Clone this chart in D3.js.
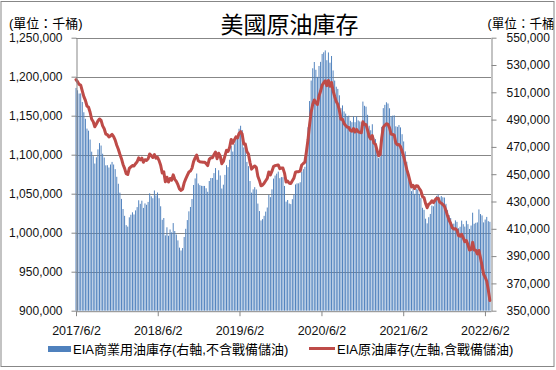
<!DOCTYPE html>
<html>
<head>
<meta charset="utf-8">
<script src="https://cdn.jsdelivr.net/npm/d3@7"></script>
<style>
  body { margin: 0; background: #fff; }
  svg { display: block; }
</style>
</head>
<body>
<div id="chart"></div>
<script>
// weekly EIA commercial crude stocks, excl. SPR (千桶) - right axis
const commercial = [
  513200,511500,509100,509200,502900,495400,490600,483400,481900,475400,466500,463200,457800,462400,468200,472800,471000,465000,462200,456500,456600,454900,457100,459000,457100,453700,448100,443000,436500,431900,424500,
  419500,412700,411600,418400,420300,422100,420500,423500,425900,430900,428300,430600,425300,428600,427600,429700,436000,433800,432400,438100,434500,436600,432400,426500,416600,417900,405200,411100,404900,409500,407400,414200,408400,405800,401500,396200,394100,395900,404000,410000,416400,422800,426000,431800,442100,446900,450500,443200,442000,441500,441400,441400,
  439700,437100,445000,447200,447200,450800,454500,445900,452900,449100,439500,442300,449500,456600,455200,460600,470600,466600,472000,476800,476500,483300,485500,482400,469600,469600,459000,455900,445000,436500,438900,440500,438800,428500,423000,416100,417100,419500,422600,425600,434900,433200,438900,446800,449000,450400,451900,447100,447900,447800,441400,429900,
  431100,428500,428100,431700,435000,442500,443300,443300,444100,451800,453700,455400,469200,484400,503600,518600,527600,532200,526500,521300,529300,532300,538100,539300,540700,533500,539200,531700,536600,526000,518600,514100,512500,507800,498400,500400,496000,494400,492400,492900,489100,488100,492400,488100,492400,489400,488700,488100,503200,500100,499500,493500,
  485500,482200,486600,476700,475700,469000,461800,463000,484600,498400,500800,502700,501800,498300,492400,492900,493100,485100,484700,486000,484300,479300,474000,466700,459100,452300,445500,437600,439700,435600,439200,438800,435600,432600,425400,423900,417400,414000,418500,420900,427000,426500,430800,434100,435100,433000,434000,433100,432900,428300,423600,420000,417900,
  413300,413800,416200,415100,410400,411500,416000,413400,411600,415900,413400,409900,412400,421800,413700,414400,414700,424200,420800,419800,414700,416800,418700,415600,415100
];

// weekly EIA crude stocks incl. SPR (千桶) - left axis
const total = [
  1196200,1193500,1190100,1189200,1181900,1174400,1169600,1162400,1160900,1154400,1145500,1142200,1135800,1139400,1143200,1145800,1144000,1137000,1133200,1126500,1125600,1122900,1124100,1126000,1123100,1118700,1112100,1107000,1100500,1094900,1087500,
  1082500,1075700,1074600,1082400,1084300,1086100,1085500,1088500,1090900,1095900,1093300,1095600,1090300,1093600,1092600,1094700,1101000,1098800,1096400,1100100,1095500,1096600,1092400,1086500,1076600,1077900,1065200,1071100,1064900,1069500,1067400,1074200,1068400,1065800,1061500,1056200,1054100,1055900,1064000,1069000,1073400,1077800,1079000,1082800,1091100,1095900,1099500,1092200,1091000,1090500,1090400,1090400,
  1088700,1086100,1094000,1096200,1096200,1099800,1103500,1094900,1101900,1098100,1088500,1091300,1098500,1105600,1104200,1109600,1119600,1114600,1119000,1122800,1121500,1127300,1129500,1126400,1113600,1113600,1104000,1100900,1090000,1081500,1083900,1085500,1083800,1072500,1067000,1060100,1061100,1063500,1066600,1069600,1077900,1074200,1078900,1084800,1086000,1086400,1086900,1082100,1082900,1082800,1076400,1064900,
  1066100,1063500,1063100,1066700,1070000,1077500,1078300,1078300,1079100,1086800,1088700,1090400,1104200,1119400,1138600,1154600,1164600,1170200,1166500,1164300,1175300,1181300,1189100,1192300,1194700,1188500,1195200,1187700,1192600,1182000,1174600,1168100,1164500,1156800,1145400,1145400,1140000,1137400,1135400,1134900,1131100,1130100,1133400,1129100,1132400,1129400,1128700,1128100,1142200,1139100,1138500,1131500,
  1123500,1120200,1124600,1114700,1113700,1106000,1098800,1100000,1121600,1135400,1137800,1139700,1138800,1134300,1126400,1125900,1125100,1115100,1112700,1113000,1110300,1104300,1098000,1089700,1081100,1074300,1066500,1058600,1060700,1056600,1060200,1059800,1056600,1053600,1046400,1044900,1037400,1032000,1036500,1037900,1041000,1038500,1041800,1044100,1044100,1039000,1038000,1036100,1033900,1028300,1021600,1016000,1011900,
  1006300,1004800,1005200,1003100,996400,995500,998000,993400,988600,989900,984400,977900,978400,987800,977700,977400,972700,977200,967800,957800,946700,942800,937700,926600,913100
];

const firstWeek = "2017/6/2";
const axisEnd = "2022/6/29";
const xTickLabels = ["2017/6/2", "2018/6/2", "2019/6/2", "2020/6/2", "2021/6/2", "2022/6/2"];
const leftTicks = [900000, 950000, 1000000, 1050000, 1100000, 1150000, 1200000, 1250000];
const rightTicks = [350000, 370000, 390000, 410000, 430000, 450000, 470000, 490000, 510000, 530000, 550000];

const seriesNames = ["EIA商業用油庫存(右軸,不含戰備儲油)", "EIA原油庫存(左軸,含戰備儲油)"];
const titleText = "美國原油庫存";
const unitText = "(單位：千桶)";
const unitTextRight = "(單位：千桶"; // closing paren is hidden behind the frame edge in the original

const W = 556, H = 370;
const plot = { left: 76, right: 491, top: 37.7, bottom: 310.7 };
const fontFam = "'Liberation Sans', 'Noto Sans CJK TC', sans-serif";
const blue = "#4f81bd", red = "#be4b48", gridC = "#878787";

const parse = d3.utcParse("%Y/%-m/%-d");
const start = parse(firstWeek);
const dates = commercial.map((_, i) => d3.utcDay.offset(start, 7 * i));

const x = d3.scaleUtc()
    .domain([start, parse(axisEnd)])
    .range([plot.left, plot.right]);

const yL = d3.scaleLinear()
    .domain([900000, 1250000])
    .range([plot.bottom, plot.top]);

const yR = d3.scaleLinear()
    .domain([350000, 550000])
    .range([plot.bottom, plot.top]);

const svg = d3.select("#chart").append("svg")
    .attr("width", W)
    .attr("height", H)
    .attr("viewBox", [0, 0, W, H])
    .style("font-family", fontFam);

// title + units
svg.append("text")
    .attr("x", 289.5).attr("y", 32.5)
    .attr("text-anchor", "middle")
    .attr("font-size", 23)
    .attr("fill", "#000")
    .text(titleText);

svg.append("text")
    .attr("x", 9).attr("y", 27.5)
    .attr("font-size", 13)
    .attr("fill", "#000")
    .text(unitText);

svg.append("text")
    .attr("x", 487.5).attr("y", 27.5)
    .attr("font-size", 12.6)
    .attr("fill", "#000")
    .text(unitTextRight);

// grid lines
svg.append("g")
    .selectAll("line")
    .data(leftTicks.slice(1))
    .join("line")
    .attr("x1", plot.left).attr("x2", plot.right)
    .attr("y1", d => Math.round(yL(d)) + 0.5)
    .attr("y2", d => Math.round(yL(d)) + 0.5)
    .attr("stroke", gridC)
    .attr("stroke-width", 1);

// bars (right axis)
const step = x(dates[1]) - x(dates[0]);
const barW = step * 0.62;
svg.append("g")
    .selectAll("rect")
    .data(commercial)
    .join("rect")
    .attr("x", (d, i) => x(dates[i]) - barW / 2)
    .attr("y", d => yR(d))
    .attr("width", barW)
    .attr("height", d => plot.bottom - yR(d))
    .attr("fill", blue);

// line (left axis)
const line = d3.line()
    .x((d, i) => x(dates[i]))
    .y(d => yL(d));

svg.append("path")
    .datum(total)
    .attr("d", line)
    .attr("fill", "none")
    .attr("stroke", red)
    .attr("stroke-width", 3)
    .attr("stroke-linejoin", "round")
    .attr("stroke-linecap", "round");

// axes
function styleAxis(g) {
    g.selectAll("path, line").attr("stroke", gridC).attr("stroke-width", 1);
    g.selectAll("text").attr("fill", "#111").style("font-family", fontFam);
}

svg.append("g")
    .attr("transform", `translate(${plot.left + 0.5},0)`)
    .call(d3.axisLeft(yL).tickValues(leftTicks).tickFormat(d3.format(",")).tickSize(5).tickSizeOuter(0).tickPadding(9))
    .call(g => g.selectAll("text").attr("font-size", 12))
    .call(styleAxis);

svg.append("g")
    .attr("transform", `translate(${plot.right + 0.5},0)`)
    .call(d3.axisRight(yR).tickValues(rightTicks).tickFormat(d3.format(",")).tickSize(5).tickSizeOuter(0).tickPadding(10))
    .call(g => g.selectAll("text").attr("font-size", 12))
    .call(styleAxis);

svg.append("g")
    .attr("transform", `translate(0,${plot.bottom + 0.5})`)
    .call(d3.axisBottom(x).tickValues(xTickLabels.map(parse)).tickFormat(d3.utcFormat("%Y/%-m/%-d")).tickSize(5).tickSizeOuter(0).tickPadding(10))
    .call(g => g.selectAll("text").attr("font-size", 12.5))
    .call(styleAxis);

// legend
const legend = svg.append("g").attr("font-size", 13).attr("fill", "#000");
legend.append("rect")
    .attr("x", 48).attr("y", 346).attr("width", 23).attr("height", 6)
    .attr("fill", blue);
legend.append("text")
    .attr("x", 73).attr("y", 353.5)
    .text(seriesNames[0]);
legend.append("line")
    .attr("x1", 309).attr("x2", 335).attr("y1", 348.5).attr("y2", 348.5)
    .attr("stroke", red).attr("stroke-width", 3);
legend.append("text")
    .attr("x", 337).attr("y", 353.5)
    .text(seriesNames[1]);

// outer frame
svg.append("rect")
    .attr("x", 1).attr("y", 1.5).attr("width", 553).attr("height", 365)
    .attr("fill", "none")
    .attr("stroke", gridC)
    .attr("stroke-width", 1);
</script>
</body>
</html>
